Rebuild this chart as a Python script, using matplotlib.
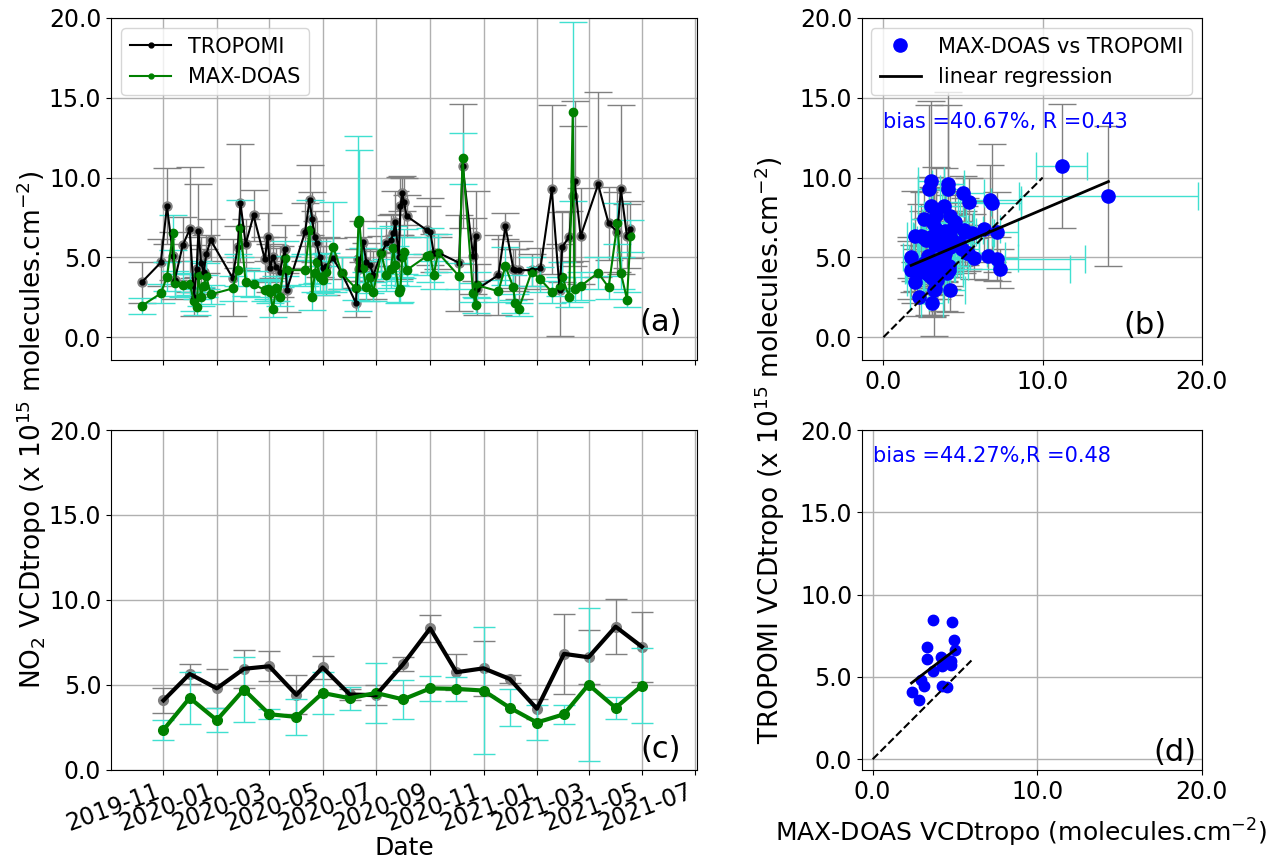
import matplotlib
matplotlib.use('Agg')
import matplotlib.pyplot as plt
import matplotlib.dates as mdates
from matplotlib.ticker import FormatStrFormatter, MultipleLocator
import numpy as np
import pandas as pd

# ---------------- data: panel (a) individual overpasses ----------------
dates_a = ['2019-10-07', '2019-10-29', '2019-11-05', '2019-11-12', '2019-11-14', '2019-11-23',
           '2019-12-01', '2019-12-06', '2019-12-09', '2019-12-11', '2019-12-14', '2019-12-17',
           '2019-12-20', '2019-12-25', '2020-01-19', '2020-01-25', '2020-01-28', '2020-02-03',
           '2020-02-12', '2020-02-25', '2020-02-28', '2020-03-02', '2020-03-05', '2020-03-09',
           '2020-03-13', '2020-03-19', '2020-03-21', '2020-04-11', '2020-04-16', '2020-04-19',
           '2020-04-22', '2020-04-24', '2020-04-28', '2020-05-01', '2020-05-05', '2020-05-13',
           '2020-05-23', '2020-06-08', '2020-06-11', '2020-06-12', '2020-06-16', '2020-06-20',
           '2020-06-24', '2020-06-28', '2020-07-07', '2020-07-13', '2020-07-18', '2020-07-21',
           '2020-07-23', '2020-07-27', '2020-07-29', '2020-07-31', '2020-08-02', '2020-08-05',
           '2020-08-28', '2020-09-01', '2020-09-05', '2020-09-10', '2020-10-04', '2020-10-08',
           '2020-10-20', '2020-10-23', '2020-10-24', '2020-11-18', '2020-11-26', '2020-12-05',
           '2020-12-07', '2020-12-11', '2020-12-26', '2021-01-05', '2021-01-18', '2021-01-27',
           '2021-01-30', '2021-02-07', '2021-02-11', '2021-02-13', '2021-02-20', '2021-03-12',
           '2021-03-24', '2021-04-03', '2021-04-07', '2021-04-14', '2021-04-18']
tropomi_a = [3.43, 4.68, 8.21, 5.08, 3.6, 5.75, 6.75, 2.53, 4.3, 6.67,
             4.66, 4.10, 5.20, 6.08, 3.72, 5.66, 8.42, 5.83, 7.63, 4.87,
             6.25, 4.35, 5.0, 4.41, 4.10, 5.50, 2.95, 6.60, 8.59, 7.40,
             6.29, 5.87, 5.0, 4.31, 4.45, 4.93, 4.0, 2.15, 4.9, 4.3,
             5.98, 4.7, 4.51, 3.89, 5.25, 5.87, 6.08, 6.5, 7.23, 5.03,
             8.21, 9.01, 8.5, 7.59, 6.71, 6.60, 5.29, 5.3, 4.66, 10.72,
             5.08, 6.35, 2.99, 3.89, 6.96, 4.3, 4.20, 4.2, 4.20, 4.31,
             9.26, 2.95, 5.66, 6.29, 8.84, 9.80, 6.33, 9.57, 7.13, 6.60,
             9.26, 6.33, 6.75]
tropomi_err_a = [1.3, 1.5, 2.4, 1.5, 1.2, 1.8, 3.9, 1.2, 1.5, 2.9,
                 1.6, 1.4, 1.2, 1.3, 2.4, 1.3, 3.7, 1.6, 1.6, 1.4,
                 1.5, 1.5, 1.3, 1.2, 1.6, 1.5, 1.4, 1.8, 2.2, 1.7,
                 1.6, 1.4, 1.2, 1.4, 1.8, 1.3, 1.0, 0.9, 1.4, 1.2,
                 1.3, 1.2, 1.0, 1.5, 1.1, 1.4, 1.6, 1.2, 1.9, 1.4,
                 1.8, 1.1, 1.5, 1.3, 1.5, 2.1, 1.2, 1.0, 3.0, 3.9,
                 2.4, 2.8, 1.6, 2.5, 0.8, 1.2, 1.3, 1.8, 1.0, 1.3,
                 5.3, 2.9, 2.2, 1.6, 4.4, 5.0, 3.0, 5.8, 2.3, 2.5,
                 5.3, 2.0, 1.8]
maxdoas_a = [1.96, 2.74, 3.78, 6.54, 3.37, 3.24, 3.32, 2.24, 1.90, 3.89,
             2.53, 3.22, 3.82, 2.68, 3.05, 4.2, 6.81, 3.45, 3.32, 2.95,
             3.0, 2.84, 1.74, 3.05, 2.53, 4.93, 4.2, 4.20, 6.71, 2.53,
             4.0, 4.72, 3.78, 3.57, 4.10, 5.66, 4.0, 3.05, 7.13, 7.33,
             4.31, 3.16, 3.78, 2.84, 5.25, 3.89, 4.3, 5.56, 4.5, 2.84,
             3.0, 5.0, 5.35, 4.20, 5.08, 5.14, 3.89, 5.29, 3.82, 11.20,
             2.78, 2.0, 3.26, 2.88, 4.45, 3.12, 2.11, 1.74, 4.10, 3.62,
             2.84, 3.16, 3.78, 2.49, 14.13, 2.99, 3.20, 4.03, 3.12, 7.13,
             4.03, 2.36, 6.33]
maxdoas_err_a = [0.5, 0.6, 0.9, 1.1, 0.8, 0.7, 0.7, 0.6, 0.5, 0.9,
                 0.6, 0.7, 0.8, 0.6, 0.8, 1.0, 1.8, 0.9, 0.8, 0.7,
                 0.6, 0.7, 0.5, 0.8, 0.6, 1.1, 0.9, 1.0, 1.9, 0.8,
                 1.2, 1.3, 1.0, 0.9, 1.2, 2.8, 1.0, 0.7, 5.5, 4.4,
                 1.3, 0.9, 1.0, 0.6, 1.6, 1.0, 1.2, 1.4, 1.2, 0.7,
                 0.8, 1.3, 1.4, 1.0, 1.2, 1.7, 0.9, 1.2, 0.8, 1.6,
                 0.6, 0.5, 0.8, 0.7, 1.2, 0.8, 0.6, 0.4, 0.9, 0.8,
                 0.7, 0.6, 0.9, 0.6, 5.6, 0.8, 0.9, 1.0, 0.7, 1.3,
                 1.0, 0.5, 1.0]

# ---------------- data: panel (c) monthly means ----------------
months_c = ['2019-11-01', '2019-12-01', '2020-01-01', '2020-02-01', '2020-03-01', '2020-04-01',
            '2020-05-01', '2020-06-01', '2020-07-01', '2020-08-01', '2020-09-01', '2020-10-01',
            '2020-11-01', '2020-12-01', '2021-01-01', '2021-02-01', '2021-03-01', '2021-04-01',
            '2021-05-01']
tropomi_c = [4.09, 5.65, 4.80, 5.95, 6.10, 4.42, 6.03, 4.44, 4.40, 6.22,
             8.33, 5.75, 5.98, 5.35, 3.60, 6.83, 6.63, 8.43, 7.25]
tropomi_err_c = [0.75, 0.6, 1.15, 1.1, 0.87, 1.14, 0.7, 0.3, 0.6, 0.42,
                 0.8, 1.05, 1.6, 0.25, 0.6, 2.35, 1.6, 1.6, 2.05]
maxdoas_c = [2.36, 4.24, 2.93, 4.73, 3.28, 3.12, 4.53, 4.22, 4.53, 4.15,
             4.80, 4.77, 4.67, 3.66, 2.79, 3.28, 5.02, 3.66, 4.96]
maxdoas_err_c = [0.6, 1.55, 0.7, 1.9, 0.3, 1.05, 1.25, 0.68, 1.75, 1.17,
                 0.75, 0.7, 3.75, 1.1, 1.05, 0.55, 4.5, 0.65, 2.2]

# ---------------- regression / statistics ----------------
reg_b_slope, reg_b_intercept = 0.424, 3.76
reg_d_slope, reg_d_intercept = 0.76, 2.84
one2one_b_end = 10.0
one2one_d_end = 6.0
stats_b = 'bias =40.67%, R =0.43'
stats_d = 'bias =44.27%,R =0.48'

# ---------------- figure ----------------
FS_TICK = 17
FS_YLAB = 19
FS_XLAB = 18

fig = plt.figure(figsize=(12.8, 8.6), dpi=100)
ax_a = fig.add_axes([0.0867, 0.5814, 0.4578, 0.3977])
ax_c = fig.add_axes([0.0867, 0.1047, 0.4578, 0.3953], sharex=ax_a)
ax_b = fig.add_axes([0.6734, 0.5814, 0.2656, 0.3977])
ax_d = fig.add_axes([0.6734, 0.1047, 0.2656, 0.3953])

da = pd.to_datetime(dates_a)
dc = pd.to_datetime(months_c)
grey = '#808080'
cyan = 'turquoise'

# (a)
ax_a.errorbar(da, tropomi_a, yerr=tropomi_err_a, fmt='o', color=grey, ecolor=grey,
              markersize=6.5, elinewidth=1, capsize=10, zorder=2)
ax_a.plot(da, tropomi_a, 'k.-', lw=1.5, markersize=7, label='TROPOMI', zorder=3)
ax_a.errorbar(da, maxdoas_a, yerr=maxdoas_err_a, fmt='o', color='green', ecolor=cyan,
              markersize=6, elinewidth=1, capsize=10, zorder=2.5)
ax_a.plot(da, maxdoas_a, 'g.-', lw=1.5, markersize=7, label='MAX-DOAS', zorder=3.5)
ax_a.set_ylim(-1.43, 20)
ax_a.legend(loc='upper left', fontsize=15)
ax_a.text(0.938, 0.111, '(a)', transform=ax_a.transAxes, fontsize=22, ha='center', va='center')

# (c)
ax_c.errorbar(dc, tropomi_c, yerr=tropomi_err_c, fmt='o', color=grey, ecolor=grey,
              markersize=7, elinewidth=1, capsize=8, zorder=2)
ax_c.plot(dc, tropomi_c, 'k-', lw=3, zorder=3)
ax_c.errorbar(dc, maxdoas_c, yerr=maxdoas_err_c, fmt='o', color='green', ecolor=cyan,
              markersize=7, elinewidth=1, capsize=8, zorder=2.5)
ax_c.plot(dc, maxdoas_c, 'g-', lw=3, zorder=3.5)
ax_c.set_ylim(0, 20)
ax_c.set_xlabel('Date', fontsize=FS_XLAB, labelpad=0)
ax_c.text(0.938, 0.059, '(c)', transform=ax_c.transAxes, fontsize=22, ha='center', va='center')

ax_c.set_xlim(pd.Timestamp('2019-09-02'), pd.Timestamp('2021-07-03'))
ax_c.xaxis.set_major_locator(mdates.MonthLocator(bymonth=[1, 3, 5, 7, 9, 11]))
ax_c.xaxis.set_major_formatter(mdates.DateFormatter('%Y-%m'))
ax_a.tick_params(labelbottom=False)
for lab in ax_c.get_xticklabels():
    lab.set_rotation(20)
    lab.set_ha('right')

# (b)
ax_b.errorbar(maxdoas_a, tropomi_a, yerr=tropomi_err_a, fmt='none', ecolor=grey,
              elinewidth=1, capsize=10, zorder=1)
ax_b.errorbar(maxdoas_a, tropomi_a, xerr=maxdoas_err_a, fmt='none', ecolor=cyan,
              elinewidth=1, capsize=10, zorder=1.5)
ax_b.plot(maxdoas_a, tropomi_a, 'o', color='blue', markersize=9.5, linestyle='none',
          label='MAX-DOAS vs TROPOMI', zorder=3)
xb = np.array([min(maxdoas_a), max(maxdoas_a)])
ax_b.plot(xb, reg_b_slope * xb + reg_b_intercept, 'k-', lw=2, label='linear regression', zorder=4)
ax_b.plot([0, one2one_b_end], [0, one2one_b_end], 'k--', lw=1.5, zorder=4)
ax_b.set_xlim(-1.35, 20)
ax_b.set_ylim(-1.43, 20)
ax_b.legend(loc='upper right', fontsize=15)
ax_b.text(0.0, 13.5, stats_b, color='blue', fontsize=15, ha='left', va='center')
ax_b.text(0.832, 0.102, '(b)', transform=ax_b.transAxes, fontsize=22, ha='center', va='center')

# (d)
ax_d.plot(maxdoas_c, tropomi_c, 'o', color='blue', markersize=7.5, linestyle='none', zorder=3)
xd = np.array([min(maxdoas_c), max(maxdoas_c)])
ax_d.plot(xd, reg_d_slope * xd + reg_d_intercept, 'k-', lw=2, zorder=4)
ax_d.plot([0, one2one_d_end], [0, one2one_d_end], 'k--', lw=1.5, zorder=4)
ax_d.set_xlim(-0.65, 20)
ax_d.set_ylim(-0.65, 20)
ax_d.text(0.0, 18.4, stats_d, color='blue', fontsize=15, ha='left', va='center')
ax_d.text(0.92, 0.05, '(d)', transform=ax_d.transAxes, fontsize=22, ha='center', va='center')

for ax in (ax_a, ax_b, ax_c, ax_d):
    ax.grid(True, color='#b0b0b0', lw=1)
    ax.set_axisbelow(True)
    ax.yaxis.set_major_locator(MultipleLocator(5))
    ax.yaxis.set_major_formatter(FormatStrFormatter('%.1f'))
    ax.tick_params(labelsize=FS_TICK)
for ax in (ax_b, ax_d):
    ax.xaxis.set_major_locator(MultipleLocator(10))
    ax.xaxis.set_major_formatter(FormatStrFormatter('%.1f'))

fig.text(0.025, 0.5, 'NO$_2$ VCDtropo (x 10$^{15}$ molecules.cm$^{-2}$)', rotation=90,
         ha='center', va='center', fontsize=FS_YLAB)
fig.text(0.6016, 0.477, 'TROPOMI VCDtropo (x 10$^{15}$ molecules.cm$^{-2}$)', rotation=90,
         ha='center', va='center', fontsize=FS_YLAB)
fig.text(0.798, 0.031, 'MAX-DOAS VCDtropo (molecules.cm$^{-2}$)', ha='center', va='center',
         fontsize=FS_XLAB)

fig.savefig('out.png', dpi=100)
